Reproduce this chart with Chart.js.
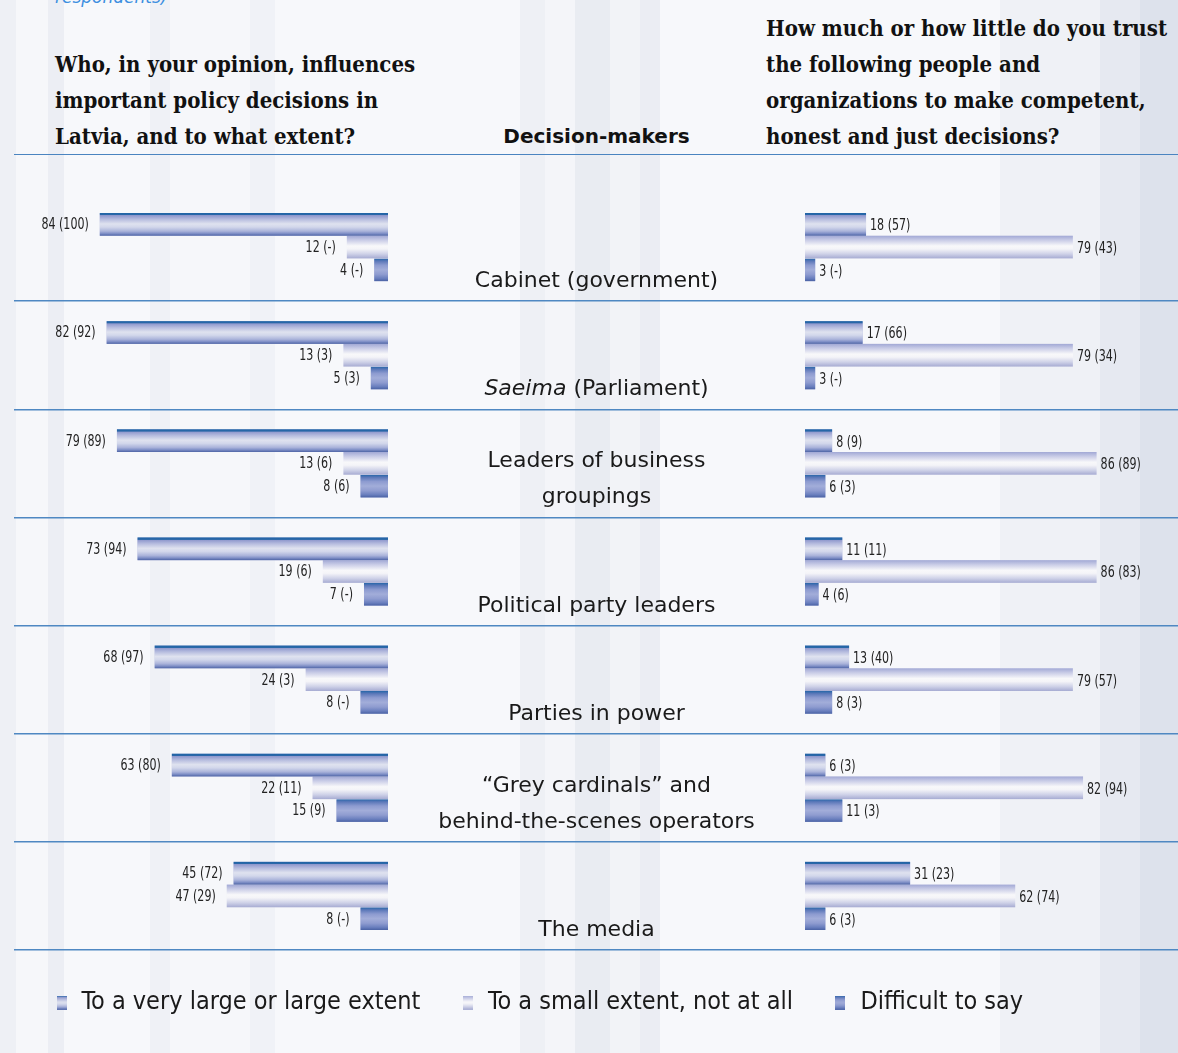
<!DOCTYPE html>
<html>
<head>
<meta charset="utf-8">
<script src="https://cdn.jsdelivr.net/npm/chart.js@4.4.1/dist/chart.umd.min.js"></script>
<style>
  html, body { margin: 0; padding: 0; }
  body {
    width: 1178px; height: 1053px; overflow: hidden; position: relative;
    font-family: 'DejaVu Sans', sans-serif;
    background: linear-gradient(90deg,
      #eef0f5 0px, #eef0f5 16px, #f6f7fa 16px, #f6f7fa 48px, #eceef4 48px, #eceef4 64px,
      #f7f8fb 64px, #f7f8fb 150px, #eff1f6 150px, #eff1f6 170px, #f6f7fa 170px, #f6f7fa 250px,
      #f0f2f7 250px, #f0f2f7 275px, #f7f8fb 275px, #f7f8fb 520px, #eef0f5 520px, #eef0f5 545px,
      #f4f5f9 545px, #f4f5f9 575px, #e9ecf2 575px, #e9ecf2 610px, #f2f3f7 610px, #f2f3f7 640px,
      #ebedf3 640px, #ebedf3 660px, #f7f8fb 660px, #f7f8fb 1000px, #eff1f6 1000px, #eff1f6 1100px,
      #e6e9f1 1100px, #e6e9f1 1140px, #dde2ec 1140px);
  }
  #chart { position: absolute; left: 0; top: 0; }
  .hdr {
    position: absolute; font-family: 'DejaVu Serif', serif; font-stretch: condensed;
    font-weight: bold; font-size: 22px; line-height: 36px; color: #111; white-space: nowrap;
  }
  .cut {
    position: absolute; left: 55px; top: -13px; font-family: 'DejaVu Sans', sans-serif;
    font-style: italic; font-size: 17px; color: #3d8fe0;
  }
  .rule { position: absolute; left: 14px; right: 0; top: 154px; border-top: 1.5px solid #4a84c0; }
  .cat {
    position: absolute; left: 388px; width: 417px; text-align: center;
    font-size: 22px; line-height: 36px; color: #1a1a1a;
  }
</style>
</head>
<body>
<div class="cut">respondents)</div>
<div class="hdr" style="left:55px; top:46px;">Who, in your opinion, influences<br>important policy decisions in<br>Latvia, and to what extent?</div>
<div class="hdr" style="left:388px; width:417px; top:118px; text-align:center; font-family:'DejaVu Sans', sans-serif; font-stretch:normal; font-size:20px;">Decision-makers</div>
<div class="hdr" style="left:766px; top:10px;">How much or how little do you trust<br>the following people and<br>organizations to make competent,<br>honest and just decisions?</div>
<div class="rule"></div>
<canvas id="chart" width="1178" height="1053"></canvas>
<script>
// decision-makers, one entry per line of the centre label
const categories = [
  ['Cabinet (government)'],
  ['Saeima (Parliament)'],
  ['Leaders of business', 'groupings'],
  ['Political party leaders'],
  ['Parties in power'],
  ['\u201cGrey cardinals\u201d and', 'behind-the-scenes operators'],
  ['The media']
];
const seriesNames = ['To a very large or large extent', 'To a small extent, not at all', 'Difficult to say'];

// left panel: influence on decisions (value in brackets = second figure, null = "-")
const influenceLarge     = [84, 82, 79, 73, 68, 63, 45];
const influenceLargePrev = [100, 92, 89, 94, 97, 80, 72];
const influenceSmall     = [12, 13, 13, 19, 24, 22, 47];
const influenceSmallPrev = [null, 3, 6, 6, 3, 11, 29];
const influenceDiff      = [4, 5, 8, 7, 8, 15, 8];
const influenceDiffPrev  = [null, 3, 6, null, null, 9, null];

// right panel: trust
const trustLarge     = [18, 17, 8, 11, 13, 6, 31];
const trustLargePrev = [57, 66, 9, 11, 40, 3, 23];
const trustSmall     = [79, 79, 86, 86, 79, 82, 62];
const trustSmallPrev = [43, 34, 89, 83, 57, 94, 74];
const trustDiff      = [3, 3, 6, 4, 8, 11, 6];
const trustDiffPrev  = [null, null, 3, 6, 3, 3, 3];

const narrowFont = "'Liberation Sans Narrow', 'DejaVu Sans Condensed', sans-serif";

// striped fills of the three series
const barStops = [
  [[0, '#1f63a6'], [0.09, '#2b68a8'], [0.11, '#8f98cd'], [0.28, '#b7bddf'], [0.48, '#dfe2ef'],
   [0.62, '#d2d7eb'], [0.8, '#aab3da'], [0.9, '#8090c7'], [1, '#4e64a5']],
  [[0, '#a1a8d5'], [0.2, '#cacde7'], [0.45, '#f8f8fa'], [0.58, '#f4f4f8'], [0.8, '#cfd2e8'], [1, '#a6abd2']],
  [[0, '#2566a8'], [0.12, '#5c78b9'], [0.3, '#8d9bd0'], [0.5, '#a2add9'], [0.7, '#8f9cd0'],
   [0.88, '#6a7fbe'], [1, '#4a62a4']]
];

function swatch(stops) {
  const c = document.createElement('canvas');
  c.width = 10; c.height = 14;
  const g = c.getContext('2d');
  const gr = g.createLinearGradient(0, 0, 0, 14);
  stops.forEach(([o, col]) => gr.addColorStop(o, col));
  g.fillStyle = gr;
  g.fillRect(0, 0, 10, 14);
  return c;
}

function makeSet(i, axis, data, prev) {
  return {
    label: seriesNames[i],
    data: data,
    prev: prev,
    xAxisID: axis,
    stack: 's' + i,
    backgroundColor: barStops[i][3][1],
    borderWidth: 0,
    pointStyle: swatch(barStops[i]),
    categoryPercentage: 0.63,
    barPercentage: 1
  };
}

// paints the striped gradient over each bar using the bar's own geometry
const gradientBars = {
  id: 'gradientBars',
  afterDatasetDraw(chart, args) {
    const ctx = chart.ctx;
    const stops = barStops[args.index % 3];
    ctx.save();
    args.meta.data.forEach(bar => {
      const {x, y, base, height} = bar.getProps(['x', 'y', 'base', 'height'], true);
      const top = y - height / 2;
      const g = ctx.createLinearGradient(0, top, 0, top + height);
      stops.forEach(([o, c]) => g.addColorStop(o, c));
      ctx.fillStyle = g;
      ctx.fillRect(Math.min(x, base), top, Math.abs(x - base), height);
    });
    ctx.restore();
  }
};

// "84 (100)" style labels, squeezed horizontally like the condensed original
const valueLabels = {
  id: 'valueLabels',
  afterDatasetsDraw(chart) {
    const ctx = chart.ctx;
    const sx = 0.82;
    ctx.save();
    ctx.font = '15px ' + narrowFont;
    ctx.fillStyle = '#222';
    ctx.textBaseline = 'middle';
    chart.data.datasets.forEach((ds, di) => {
      const left = ds.xAxisID === 'xl';
      chart.getDatasetMeta(di).data.forEach((bar, i) => {
        const {x, y} = bar.getProps(['x', 'y'], true);
        const txt = ds.data[i] + ' (' + (ds.prev[i] == null ? '-' : ds.prev[i]) + ')';
        ctx.save();
        ctx.scale(sx, 1);
        if (left) {
          ctx.textAlign = 'right';
          ctx.fillText(txt, (x - 11) / sx, y + 1);
        } else {
          ctx.textAlign = 'left';
          ctx.fillText(txt, (x + 4) / sx, y + 2);
        }
        ctx.restore();
      });
    });
    ctx.restore();
  }
};

const chart = new Chart(document.getElementById('chart'), {
  type: 'bar',
  data: {
    labels: categories.map(l => l.join(' ')),
    datasets: [
      makeSet(0, 'xl', influenceLarge, influenceLargePrev),
      makeSet(1, 'xl', influenceSmall, influenceSmallPrev),
      makeSet(2, 'xl', influenceDiff, influenceDiffPrev),
      makeSet(0, 'xr', trustLarge, trustLargePrev),
      makeSet(1, 'xr', trustSmall, trustSmallPrev),
      makeSet(2, 'xr', trustDiff, trustDiffPrev)
    ]
  },
  options: {
    indexAxis: 'y',
    responsive: false,
    animation: false,
    devicePixelRatio: 1,
    layout: { padding: { top: 193, left: 14, right: 0, bottom: 28 } },
    scales: {
      y: {
        offset: true,
        ticks: { display: false },
        border: { display: false },
        grid: {
          offset: true,
          drawTicks: false,
          lineWidth: 1.5,
          color: c => c.index === 0 ? 'rgba(0,0,0,0)' : '#4f88c2'
        }
      },
      xl: { axis: 'x', type: 'linear', position: 'bottom', stack: 'row', stackWeight: 374,
            reverse: true, min: 0, max: 109, stacked: false, display: false },
      xm: { axis: 'x', type: 'linear', position: 'bottom', stack: 'row', stackWeight: 417,
            min: 0, max: 1, display: false },
      xr: { axis: 'x', type: 'linear', position: 'bottom', stack: 'row', stackWeight: 373,
            min: 0, max: 110, stacked: false, display: false }
    },
    plugins: {
      tooltip: { enabled: false },
      legend: {
        position: 'bottom',
        align: 'start',
        labels: {
          usePointStyle: true,
          pointStyleWidth: 15,
          padding: 40,
          color: '#1a1a1a',
          font: { family: narrowFont, size: 25 },
          filter: item => item.datasetIndex < 3
        }
      }
    }
  },
  plugins: [gradientBars, valueLabels]
});

// centre labels, bottom-anchored in each row
const yScale = chart.scales.y;
categories.forEach((lines, i) => {
  const div = document.createElement('div');
  div.className = 'cat';
  div.innerHTML = lines.map(l => l.replace('Saeima', '<i>Saeima</i>')).join('<br>');
  const yc = yScale.getPixelForValue(i);
  div.style.top = (yc + 33 + 18 - lines.length * 36) + 'px';
  document.body.appendChild(div);
});
</script>
</body>
</html>
